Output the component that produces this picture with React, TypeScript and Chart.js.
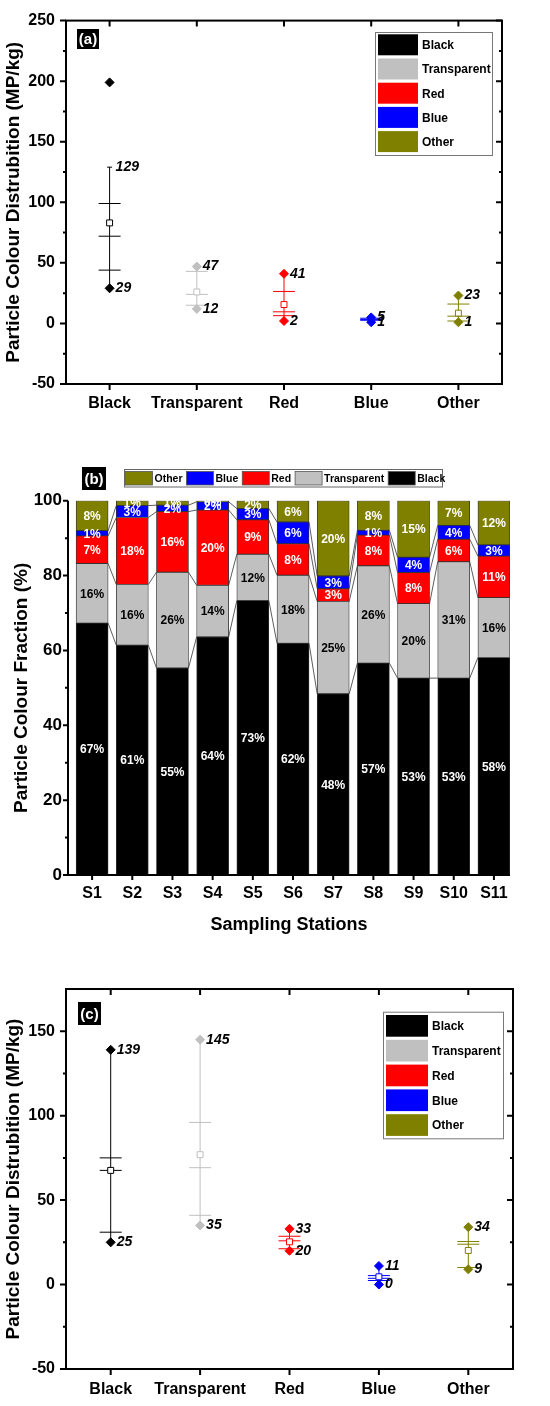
import React, { useEffect, useRef } from 'react';
import { Chart, registerables } from 'chart.js';

Chart.register(...registerables);

const FONT = '"Liberation Sans", Arial, Helvetica, sans-serif';

// colour classes (same order in every panel)
const colourNames = ['Black', 'Transparent', 'Red', 'Blue', 'Other'];
const colourSwatch = ['#000000', '#c0c0c0', '#ff0000', '#0000ff', '#808000'];

// (a) particle colour distribution, MP/kg
const aWhiskerTop = [129, 47, 41, 5, 23];
const aWhiskerBottom = [29, 12, 2, 1, 1];
const aMaxPoint = [199, 47, 41, 5, 23];
const aMinPoint = [29, 12, 2, 1, 1];
const aQ3 = [99, 43, 26.4, 4.3, 16];
const aMedian = [72, 24, 9.6, 3.3, 6];
const aQ1 = [44, 15, 6.4, 2.6, 2];
const aMean = [83, 26, 15.6, 3.2, 8.5];
const aTicks = [-50, 0, 50, 100, 150, 200, 250];
const aMinorTicks = [-25, 25, 75, 125, 175, 225];

// (b) colour fraction per station, %
const stations = ['S1', 'S2', 'S3', 'S4', 'S5', 'S6', 'S7', 'S8', 'S9', 'S10', 'S11'];
const blackPct = [67.3, 61.4, 55.3, 63.6, 73.3, 61.9, 48.4, 56.6, 52.6, 52.6, 58.1];
const transparentPct = [15.9, 16.2, 25.6, 13.8, 12.4, 18.2, 24.7, 26.0, 19.9, 31.1, 16.0];
const redPct = [7.4, 17.9, 16.2, 20.1, 9.2, 8.4, 3.4, 8.2, 8.3, 6.0, 11.1];
const bluePct = [1.4, 3.2, 1.7, 2.2, 3.0, 5.8, 3.4, 1.3, 4.1, 3.7, 3.0];
const otherPct = [8.0, 1.3, 1.2, 0.3, 2.1, 5.7, 20.1, 7.9, 15.1, 6.6, 11.8];
const fractionTicks = [0, 20, 40, 60, 80, 100];
const fractionMinorTicks = [10, 30, 50, 70, 90];

// (c) particle colour distribution, MP/kg
const cWhiskerTop = [139, 145, 33, 11, 34];
const cWhiskerBottom = [25, 35, 20, 0, 9];
const cMaxPoint = [139, 145, 33, 11, 34];
const cMinPoint = [25, 35, 20, 0, 9];
const cQ3 = [75, 96, 28.6, 5.3, 25.5];
const cMedian = [67.6, 69.2, 25.9, 3.7, 23.9];
const cQ1 = [31, 41, 21.2, 2.4, 10.1];
const cMean = [67.6, 76.9, 25.3, 4.6, 20.2];
const cTicks = [-50, 0, 50, 100, 150];
const cMinorTicks = [-25, 25, 75, 125];

const barSeries = [blackPct, transparentPct, redPct, bluePct, otherPct];

const font = (size: number, style = 'normal') => ({ family: FONT, size, weight: 'bold' as const, style: style as any });

const makeTag = (text: string, x: number, y: number, w: number, h: number) => ({
  id: 'tag',
  afterDraw(chart: any) {
    const ctx = chart.ctx;
    ctx.save();
    ctx.fillStyle = '#000';
    ctx.fillRect(x, y, w, h);
    ctx.fillStyle = '#fff';
    ctx.font = `bold 15px ${FONT}`;
    ctx.textAlign = 'center';
    ctx.textBaseline = 'middle';
    ctx.fillText(text, x + w / 2, y + h / 2 + 1);
    ctx.restore();
  },
});

const makeBoxLegend = (bx: number, by: number, bw: number, bh: number, sx: number, sw: number, sy: number, sh: number, pitch: number, tx: number) => ({
  id: 'boxLegend',
  afterDraw(chart: any) {
    const ctx = chart.ctx;
    ctx.save();
    ctx.fillStyle = '#fff';
    ctx.fillRect(bx, by, bw, bh);
    ctx.strokeStyle = '#777';
    ctx.lineWidth = 1;
    ctx.strokeRect(bx + 0.5, by + 0.5, bw, bh);
    ctx.font = `bold 12px ${FONT}`;
    ctx.textBaseline = 'middle';
    colourNames.forEach((name, i) => {
      const top = sy + i * pitch;
      ctx.fillStyle = colourSwatch[i];
      ctx.fillRect(sx, top, sw, sh);
      ctx.fillStyle = '#000';
      ctx.fillText(name, tx, top + sh / 2 + 1);
    });
    ctx.restore();
  },
});

const makeDistFrame = (majors: number[], minors: number[]) => ({
  id: 'distFrame',
  afterDraw(chart: any) {
    const { ctx, chartArea: a, scales } = chart;
    const ys = scales.y;
    const xs = scales.x;
    ctx.save();
    ctx.strokeStyle = '#000';
    ctx.lineWidth = 2;
    ctx.strokeRect(a.left, a.top, a.right - a.left, a.bottom - a.top);
    ctx.beginPath();
    majors.forEach((v) => {
      const py = ys.getPixelForValue(v);
      ctx.moveTo(a.left - 6, py);
      ctx.lineTo(a.left, py);
      ctx.moveTo(a.right, py);
      ctx.lineTo(a.right - 6, py);
    });
    minors.forEach((v) => {
      const py = ys.getPixelForValue(v);
      ctx.moveTo(a.left - 3, py);
      ctx.lineTo(a.left, py);
      ctx.moveTo(a.right, py);
      ctx.lineTo(a.right - 3, py);
    });
    xs.ticks.forEach((t: any) => {
      const px = xs.getPixelForValue(t.value);
      ctx.moveTo(px, a.bottom);
      ctx.lineTo(px, a.bottom + 6);
      ctx.moveTo(px, a.top);
      ctx.lineTo(px, a.top + 6);
    });
    ctx.stroke();
    ctx.restore();
  },
});

const makeValueLabels = (top: number[], bottom: number[]) => ({
  id: 'valueLabels',
  afterDatasetsDraw(chart: any) {
    const { ctx, scales } = chart;
    ctx.save();
    ctx.font = `italic bold 14px ${FONT}`;
    ctx.fillStyle = '#000';
    ctx.textAlign = 'left';
    ctx.textBaseline = 'middle';
    [top, bottom].forEach((arr) => {
      arr.forEach((v, i) => {
        ctx.fillText(String(v), scales.x.getPixelForValue(i + 1) + 6, scales.y.getPixelForValue(v));
      });
    });
    ctx.restore();
  },
});

function distConfig(d: any): any {
  const datasets: any[] = [];
  colourNames.forEach((_, i) => {
    const col = colourSwatch[i];
    const x = i + 1;
    datasets.push({
      data: [{ x, y: d.bottom[i] }, { x, y: d.top[i] }],
      showLine: true, borderColor: col, borderWidth: 1, pointRadius: 0, order: 4,
    });
    datasets.push({
      data: [{ x, y: d.bottom[i] }, { x, y: d.top[i] }],
      pointStyle: 'line', pointRadius: 2.5, borderColor: col, pointBorderColor: col, pointBorderWidth: 1, order: 3,
    });
    datasets.push({
      data: [d.q3[i], d.median[i], d.q1[i]].map((y: number) => ({ x, y })),
      pointStyle: 'line', pointRadius: 11, borderColor: col, pointBorderColor: col, pointBorderWidth: 1, order: 2,
    });
    datasets.push({
      data: [{ x, y: d.mean[i] }],
      pointStyle: 'rect', pointRadius: 4.2, pointBackgroundColor: '#fff', borderColor: col, pointBorderColor: col, pointBorderWidth: 1, order: 1,
    });
    datasets.push({
      data: [{ x, y: d.maxPt[i] }, { x, y: d.minPt[i] }],
      pointStyle: 'rectRot', pointRadius: 4.5, pointBackgroundColor: col, borderColor: col, pointBorderColor: col, pointBorderWidth: 1, order: 0,
    });
  });

  return {
    type: 'scatter',
    data: { datasets },
    options: {
      animation: false,
      responsive: false,
      events: [],
      layout: { padding: { top: d.padTop, right: d.padRight, left: 0, bottom: 0 } },
      plugins: { legend: { display: false }, tooltip: { enabled: false } },
      scales: {
        x: {
          type: 'linear', min: 0.5, max: 5.5, offset: false,
          afterBuildTicks: (s: any) => { s.ticks = colourNames.map((_, i) => ({ value: i + 1 })); },
          ticks: {
            callback: (v: any) => colourNames[Math.round(v) - 1] ?? '',
            font: font(16), color: '#000', padding: d.xPad, autoSkip: false, maxRotation: 0,
          },
          grid: { display: false, drawTicks: false },
          border: { display: false },
          afterFit: (s: any) => { s.height = d.xHeight; },
        },
        y: {
          type: 'linear', min: d.yMin, max: d.yMax,
          afterBuildTicks: (s: any) => { s.ticks = d.yTicks.map((v: number) => ({ value: v })); },
          ticks: { font: font(16), color: '#000', padding: 11 },
          grid: { display: false, drawTicks: false },
          border: { display: false },
          title: {
            display: true, text: 'Particle Colour Distrubition (MP/kg)', color: '#000',
            font: font(19), padding: { top: 2, bottom: 0 },
          },
          afterFit: (s: any) => { s.width = 66; },
        },
      },
    },
    plugins: [
      makeDistFrame(d.yTicks, d.yMinor),
      makeValueLabels(d.top, d.bottom),
      d.legend,
      d.tag,
    ],
  };
}

const barFrame = {
  id: 'barFrame',
  afterDraw(chart: any) {
    const { ctx, chartArea: a, scales } = chart;
    ctx.save();
    ctx.strokeStyle = '#000';
    ctx.lineWidth = 2;
    ctx.beginPath();
    ctx.moveTo(a.left, a.top);
    ctx.lineTo(a.left, a.bottom);
    ctx.lineTo(a.right, a.bottom);
    fractionTicks.forEach((v) => {
      const py = scales.y.getPixelForValue(v);
      ctx.moveTo(a.left - 5, py);
      ctx.lineTo(a.left, py);
    });
    fractionMinorTicks.forEach((v) => {
      const py = scales.y.getPixelForValue(v);
      ctx.moveTo(a.left - 3, py);
      ctx.lineTo(a.left, py);
    });
    scales.x.ticks.forEach((t: any) => {
      const px = scales.x.getPixelForValue(t.value);
      ctx.moveTo(px, a.bottom);
      ctx.lineTo(px, a.bottom + 5);
    });
    ctx.stroke();
    ctx.restore();
  },
};

const barDecor = {
  id: 'barDecor',
  afterDatasetsDraw(chart: any) {
    const ctx = chart.ctx;
    ctx.save();
    // connecting lines between stack boundaries
    ctx.strokeStyle = '#333';
    ctx.lineWidth = 0.8;
    ctx.beginPath();
    for (let k = 0; k < 4; k++) {
      const els = chart.getDatasetMeta(k).data;
      for (let i = 0; i < els.length - 1; i++) {
        const p = els[i];
        const q = els[i + 1];
        ctx.moveTo(p.x + p.width / 2, p.y);
        ctx.lineTo(q.x - q.width / 2, q.y);
      }
    }
    ctx.stroke();
    // percentage labels
    ctx.font = `bold 12px ${FONT}`;
    ctx.textAlign = 'center';
    ctx.textBaseline = 'middle';
    barSeries.forEach((series, k) => {
      ctx.fillStyle = k === 1 ? '#000' : '#fff';
      chart.getDatasetMeta(k).data.forEach((el: any, i: number) => {
        ctx.fillText(`${Math.round(series[i])}%`, el.x, (el.y + el.base) / 2 + 1);
      });
    });
    ctx.restore();
  },
};

const barLegend = {
  id: 'barLegend',
  afterDraw(chart: any) {
    const ctx = chart.ctx;
    ctx.save();
    ctx.strokeStyle = '#666';
    ctx.lineWidth = 1;
    ctx.strokeRect(124.5, 9.5, 318, 17.5);
    ctx.font = `bold 10.5px ${FONT}`;
    ctx.textBaseline = 'middle';
    let x = 125.5;
    [4, 3, 2, 1, 0].forEach((k) => {
      ctx.fillStyle = colourSwatch[k];
      ctx.fillRect(x, 11.5, 27, 13.5);
      ctx.strokeStyle = '#555';
      ctx.lineWidth = 0.8;
      ctx.strokeRect(x, 11.5, 27, 13.5);
      ctx.fillStyle = '#000';
      ctx.fillText(colourNames[k], x + 29, 18.8);
      x += 29 + ctx.measureText(colourNames[k]).width + 4;
    });
    ctx.restore();
  },
};

function barConfig(): any {
  return {
    type: 'bar',
    data: {
      datasets: barSeries.map((series, k) => ({
        label: colourNames[k],
        data: series.map((v, i) => ({ x: i + 1, y: v })),
        backgroundColor: colourSwatch[k],
        borderColor: '#333',
        borderWidth: 0.8,
        borderSkipped: false,
        barThickness: 32,
      })),
    },
    options: {
      animation: false,
      responsive: false,
      events: [],
      layout: { padding: { top: 40.7, right: 40, left: 0, bottom: 0 } },
      plugins: { legend: { display: false }, tooltip: { enabled: false } },
      scales: {
        x: {
          type: 'linear', min: 0.4, max: 11.4, stacked: true, offset: false,
          afterBuildTicks: (s: any) => { s.ticks = stations.map((_, i) => ({ value: i + 1 })); },
          ticks: {
            callback: (v: any) => stations[Math.round(v) - 1] ?? '',
            font: font(16), color: '#000', padding: 9, autoSkip: false, maxRotation: 0,
          },
          grid: { display: false, drawTicks: false },
          border: { display: false },
          title: { display: true, text: 'Sampling Stations', color: '#000', font: font(18) },
          afterFit: (s: any) => { s.height = 65; },
        },
        y: {
          type: 'linear', min: 0, max: 100, stacked: true,
          afterBuildTicks: (s: any) => { s.ticks = fractionTicks.map((v) => ({ value: v })); },
          ticks: { font: font(17), color: '#000', padding: 6 },
          grid: { display: false, drawTicks: false },
          border: { display: false },
          title: {
            display: true, text: 'Particle Colour Fraction (%)', color: '#000',
            font: font(19), padding: { top: 10, bottom: 0 },
          },
          afterFit: (s: any) => { s.width = 68; },
        },
      },
    },
    plugins: [barDecor, barFrame, barLegend, makeTag('(b)', 82, 7, 24, 23)],
  };
}

const panelA = () => distConfig({
  top: aWhiskerTop, bottom: aWhiskerBottom, maxPt: aMaxPoint, minPt: aMinPoint,
  q3: aQ3, median: aMedian, q1: aQ1, mean: aMean,
  yMin: -50, yMax: 250, yTicks: aTicks, yMinor: aMinorTicks,
  padTop: 15, padRight: 48, xHeight: 36, xPad: 10,
  legend: makeBoxLegend(375, 32, 117, 123, 378, 40, 34.3, 21, 24.2, 422),
  tag: makeTag('(a)', 77, 29, 22, 20),
});

const panelC = () => distConfig({
  top: cWhiskerTop, bottom: cWhiskerBottom, maxPt: cMaxPoint, minPt: cMinPoint,
  q3: cQ3, median: cMedian, q1: cQ1, mean: cMean,
  yMin: -50, yMax: 175, yTicks: cTicks, yMinor: cMinorTicks,
  padTop: 29, padRight: 37, xHeight: 37, xPad: 11,
  legend: makeBoxLegend(383, 51.7, 120, 126.6, 386, 42, 55, 21.7, 24.8, 432),
  tag: makeTag('(c)', 78, 42, 23, 23),
});

const ChartPanel: React.FC<{ make: () => any; top: number; height: number }> = ({ make, top, height }) => {
  const canvasRef = useRef<HTMLCanvasElement>(null);
  const chartRef = useRef<Chart | null>(null);

  useEffect(() => {
    if (!canvasRef.current) return;
    chartRef.current = new Chart(canvasRef.current, make());
    return () => {
      if (chartRef.current) {
        chartRef.current.destroy();
        chartRef.current = null;
      }
    };
  }, [make]);

  return (
    <canvas
      ref={canvasRef}
      width={550}
      height={height}
      style={{ position: 'absolute', left: 0, top, width: 550, height }}
    />
  );
};

export default function App() {
  return (
    <div style={{ position: 'absolute', left: 0, top: 0, width: 550, height: 1406, background: '#fff', overflow: 'hidden' }}>
      <ChartPanel make={panelA} top={0} height={420} />
      <ChartPanel make={barConfig} top={460} height={480} />
      <ChartPanel make={panelC} top={960} height={446} />
    </div>
  );
}
